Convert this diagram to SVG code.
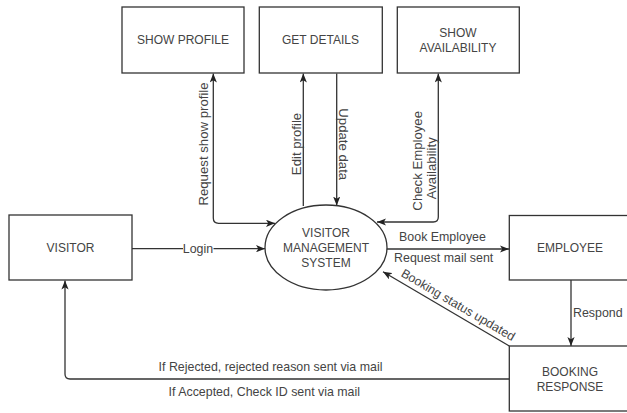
<svg xmlns="http://www.w3.org/2000/svg" width="627" height="413" viewBox="0 0 627 413">
  <style>
    .box { fill: #ffffff; stroke: #333333; stroke-width: 1.3; }
    .edge { fill: none; stroke: #333333; stroke-width: 1.3; }
    .t { font-family: "Liberation Sans", Arial, sans-serif; font-size: 12px; fill: #444444; text-anchor: middle; dominant-baseline: central; }
    .e { font-family: "Liberation Sans", Arial, sans-serif; font-size: 12.4px; fill: #444444; text-anchor: middle; dominant-baseline: central; }
    .v { font-family: "Liberation Sans", Arial, sans-serif; font-size: 13.2px; fill: #444444; text-anchor: middle; dominant-baseline: central; }
  </style>
  <defs>
    <marker id="arr" viewBox="0 0 10 8" markerWidth="9" markerHeight="7.5" refX="10" refY="4" orient="auto-start-reverse" markerUnits="userSpaceOnUse">
      <path d="M0,0 L10,4 L0,8 L2.5,4 z" fill="#222222"/>
    </marker>
  </defs>
  <rect width="627" height="413" fill="#ffffff"/>

  <g id="connectors">
    <path class="edge" d="M213.3,73.5 L213.3,218 Q213.3,223.3 218.6,223.3 L275,223.3" marker-start="url(#arr)" marker-end="url(#arr)"/>
    <path class="edge" d="M303.3,206 L303.3,73.5" marker-end="url(#arr)"/>
    <path class="edge" d="M336.7,73.5 L336.7,205.5" marker-end="url(#arr)"/>
    <path class="edge" d="M438.3,73.5 L438.3,217 Q438.3,222 433.3,222 L377,222" marker-start="url(#arr)" marker-end="url(#arr)"/>
    <path class="edge" d="M132,248.7 L265,248.7" marker-end="url(#arr)"/>
    <path class="edge" d="M387,249 L509,249" marker-end="url(#arr)"/>
    <path class="edge" d="M571,280 L571,346" marker-end="url(#arr)"/>
    <path class="edge" d="M509.3,346 L383,271.7" marker-end="url(#arr)"/>
    <path class="edge" d="M509.3,379 L70,379 Q65,379 65,374 L65,280.5" marker-end="url(#arr)"/>

    <text class="v" transform="translate(203.3,144) rotate(-90)">Request show profile</text>
    <text class="v" transform="translate(296.7,144) rotate(-90)">Edit profile</text>
    <text class="v" transform="translate(343.3,144.2) rotate(90)">Update data</text>
    <text class="v" transform="translate(417.3,160.8) rotate(-90)">Check Employee</text>
    <text class="v" transform="translate(431.8,168.3) rotate(-90)">Availability</text>
    <rect x="183" y="241" width="30.5" height="15" fill="#ffffff"/>
    <text class="e" x="198" y="248.7">Login</text>
    <text class="e" x="442.5" y="236.7">Book Employee</text>
    <text class="e" x="443.7" y="258.3">Request mail sent</text>
    <text class="e" x="573" y="313" style="text-anchor:start">Respond</text>
    <text class="e" transform="translate(458,305) rotate(30.4)">Booking status updated</text>
    <text class="e" x="270.5" y="366.7">If Rejected, rejected reason sent via mail</text>
    <text class="e" x="264.3" y="391.7">If Accepted, Check ID sent via mail</text>
  </g>

  <g id="show-profile">
    <rect class="box" x="122" y="7" width="122" height="66"/>
    <text class="t" x="183" y="40">SHOW PROFILE</text>
  </g>
  <g id="get-details">
    <rect class="box" x="259.3" y="7" width="123" height="66"/>
    <text class="t" x="320.5" y="40">GET DETAILS</text>
  </g>
  <g id="show-availability">
    <rect class="box" x="397.3" y="7" width="122" height="66"/>
    <text class="t" x="458" y="33.3">SHOW</text>
    <text class="t" x="458" y="48.3">AVAILABILITY</text>
  </g>
  <g id="visitor">
    <rect class="box" x="9" y="215" width="123" height="65"/>
    <text class="t" x="70.5" y="247.7">VISITOR</text>
  </g>
  <g id="vms">
    <ellipse class="box" cx="326" cy="247.5" rx="61" ry="42.5"/>
    <text class="t" x="326" y="233.3">VISITOR</text>
    <text class="t" x="326" y="248.3">MANAGEMENT</text>
    <text class="t" x="326" y="263.3">SYSTEM</text>
  </g>
  <g id="employee">
    <rect class="box" x="509.3" y="215.5" width="122" height="64.5"/>
    <text class="t" x="570" y="248.3">EMPLOYEE</text>
  </g>
  <g id="booking-response">
    <rect class="box" x="509.3" y="346" width="122" height="65"/>
    <text class="t" x="570" y="371.7">BOOKING</text>
    <text class="t" x="570" y="386.7">RESPONSE</text>
  </g>
</svg>
